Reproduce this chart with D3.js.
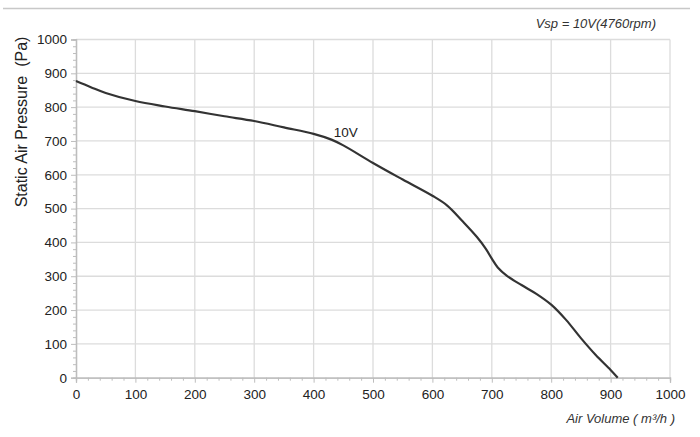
<!DOCTYPE html>
<html><head><meta charset="utf-8">
<script src="https://cdn.jsdelivr.net/npm/d3@7"></script>
<style>body{margin:0;background:#fff;}svg{display:block;}</style>
</head><body><svg id="c" width="700" height="437"></svg>
<script>
const airVolume = [0, 25, 50, 100, 150, 200, 250, 300, 350, 400, 430, 450, 500, 550, 600, 625, 650, 675, 690, 700, 710, 725, 750, 775, 800, 825, 850, 875, 900, 912];
const pressure  = [877, 859, 842, 818, 802, 788, 773, 759, 740, 721, 704, 687, 635, 586, 538, 509, 464, 416, 381, 352, 326, 302, 274, 248, 216, 171, 117, 67, 23, 0];
const xTicks = [0,100,200,300,400,500,600,700,800,900,1000];
const yTicks = [0,100,200,300,400,500,600,700,800,900,1000];
const seriesLabel = "10V";
const titleText = "Vsp = 10V(4760rpm)";
const xTitle = "Air Volume ( m³/h )";
const yTitle = "Static Air Pressure  (Pa)";

const svg = d3.select("#c");
const font = "Liberation Sans, Arial, sans-serif";
const x = d3.scaleLinear().domain([0,1000]).range([76,670]);
const y = d3.scaleLinear().domain([0,1000]).range([377.7,39.5]);
const grid = "#dcdcdc";

// top rule
svg.append("line").attr("x1",3).attr("x2",690).attr("y1",8.5).attr("y2",8.5).attr("stroke","#c8c8c8").attr("stroke-width",1.5);

// grid
svg.append("g").selectAll("line").data(xTicks.slice(1)).join("line")
  .attr("x1",d=>x(d)).attr("x2",d=>x(d)).attr("y1",y(0)).attr("y2",y(1000))
  .attr("stroke",grid).attr("stroke-width",1.3);
svg.append("g").selectAll("line").data(yTicks.slice(1)).join("line")
  .attr("x1",x(0)).attr("x2",x(1000)).attr("y1",d=>y(d)).attr("y2",d=>y(d))
  .attr("stroke",grid).attr("stroke-width",1.3);

// axes
const xAxis = svg.append("g").attr("transform",`translate(0,${y(0)})`)
  .call(d3.axisBottom(x).tickValues(xTicks).tickSize(5).tickPadding(4).tickFormat(d3.format("d")));
const xMinor = svg.append("g").attr("transform",`translate(0,${y(0)})`)
  .call(d3.axisBottom(x).tickValues(d3.range(0,1001,20).filter(v=>v%100)).tickSize(3).tickFormat(""));
const yAxis = svg.append("g").attr("transform",`translate(${x(0)},0)`)
  .call(d3.axisLeft(y).tickValues(yTicks).tickSize(5).tickPadding(4).tickFormat(d3.format("d")));
const yMinor = svg.append("g").attr("transform",`translate(${x(0)},0)`)
  .call(d3.axisLeft(y).tickValues(d3.range(0,1001,20).filter(v=>v%100)).tickSize(3).tickFormat(""));
[xAxis,xMinor,yAxis,yMinor].forEach(g=>{
  g.selectAll(".domain").attr("stroke","#bdbdbd").attr("stroke-width",1.3);
  g.selectAll(".tick line").attr("stroke","#bdbdbd");
  g.selectAll("text").attr("font-family",font).attr("font-size",13.5).attr("fill","#222");
});
xAxis.selectAll("text").attr("dy","0.9em");

// curve
const data = airVolume.map((v,i)=>({x:v,y:pressure[i]}));
svg.append("path").datum(data)
  .attr("d",d3.line().x(d=>x(d.x)).y(d=>y(d.y)).curve(d3.curveCatmullRom.alpha(0.5)))
  .attr("fill","none").attr("stroke","#333").attr("stroke-width",2.2);

// labels
svg.append("text").attr("x",x(434)).attr("y",y(712)).text(seriesLabel)
  .attr("font-family",font).attr("font-size",13.5).attr("fill","#222");
svg.append("text").attr("x",656).attr("y",28).attr("text-anchor","end").text(titleText)
  .attr("font-family",font).attr("font-size",13).attr("font-style","italic").attr("fill","#333");
svg.append("text").attr("x",675).attr("y",423).attr("text-anchor","end").text(xTitle)
  .attr("font-family",font).attr("font-size",13).attr("font-style","italic").attr("fill","#333");
svg.append("text").attr("transform",`translate(27,122) rotate(-90)`).attr("text-anchor","middle")
  .style("white-space","pre").text(yTitle)
  .attr("font-family",font).attr("font-size",16).attr("fill","#222");
</script></body></html>
